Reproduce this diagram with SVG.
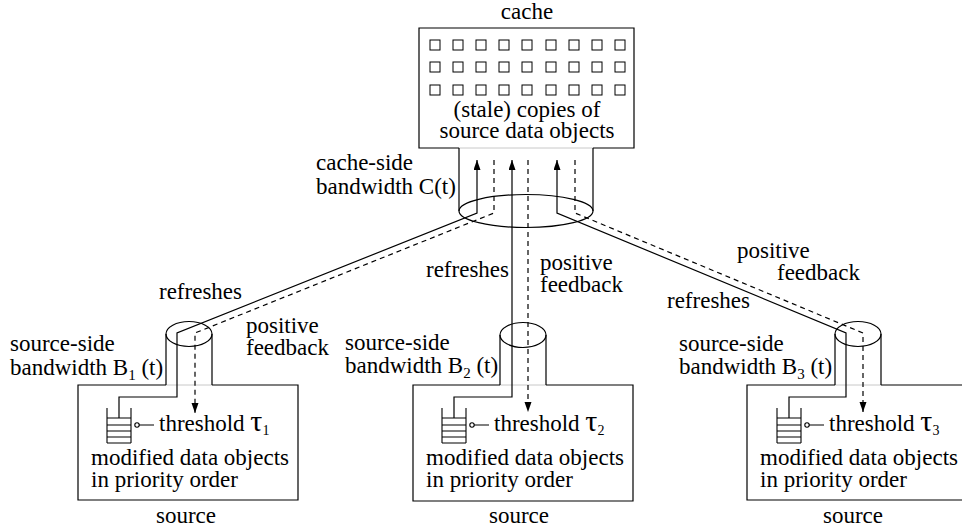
<svg xmlns="http://www.w3.org/2000/svg" width="962" height="531" viewBox="0 0 962 531">
<style>
.t{font-family:"Liberation Serif","Times New Roman",serif;font-size:23px;fill:#000}
.m{text-anchor:middle}
.ln{fill:none;stroke:#000;stroke-width:1.2}
.dash{stroke-dasharray:5 4}
.gap{fill:none;stroke:#c8c8c8;stroke-width:1}
.sq{fill:none;stroke:#000;stroke-width:1}
.q{fill:none;stroke:#000;stroke-width:1.1}
</style>
<defs>
<marker id="ah" markerUnits="userSpaceOnUse" markerWidth="10" markerHeight="8" refX="10" refY="3.5" orient="auto">
<path d="M0,0 L10,3.5 L0,7 z" fill="#000" stroke="none"/>
</marker>
</defs>
<rect width="962" height="531" fill="#fff"/>

<g id="cache">
<text class="t m" x="527" y="19">cache</text>
<path class="ln" d="M459,148 H419 V28 H634 V148 H593"/>
<path class="gap" d="M459,148 H593"/>
<g class="sq">
<rect x="430" y="40" width="10" height="10"/><rect x="453" y="40" width="10" height="10"/><rect x="476" y="40" width="10" height="10"/><rect x="499" y="40" width="10" height="10"/><rect x="522" y="40" width="10" height="10"/><rect x="546" y="40" width="10" height="10"/><rect x="569" y="40" width="10" height="10"/><rect x="592" y="40" width="10" height="10"/><rect x="615" y="40" width="10" height="10"/>
<rect x="430" y="62" width="10" height="10"/><rect x="453" y="62" width="10" height="10"/><rect x="476" y="62" width="10" height="10"/><rect x="499" y="62" width="10" height="10"/><rect x="522" y="62" width="10" height="10"/><rect x="546" y="62" width="10" height="10"/><rect x="569" y="62" width="10" height="10"/><rect x="592" y="62" width="10" height="10"/><rect x="615" y="62" width="10" height="10"/>
<rect x="430" y="85" width="10" height="10"/><rect x="453" y="85" width="10" height="10"/><rect x="476" y="85" width="10" height="10"/><rect x="499" y="85" width="10" height="10"/><rect x="522" y="85" width="10" height="10"/><rect x="546" y="85" width="10" height="10"/><rect x="569" y="85" width="10" height="10"/><rect x="592" y="85" width="10" height="10"/><rect x="615" y="85" width="10" height="10"/>
</g>
<text class="t m" x="527" y="117">(stale) copies of</text>
<text class="t m" x="527" y="138">source data objects</text>
<path class="ln" d="M459,148 V211 M593,148 V211"/>
<ellipse class="ln" cx="526" cy="211" rx="67" ry="16.5"/>
<text class="t" x="316" y="170">cache-side</text>
<text class="t" x="316" y="194">bandwidth C(t)</text>
</g>

<g id="source1">
<path class="ln" d="M166,385 H78 V500 H298 V385 H212"/>
<path class="gap" d="M166,385 H212"/>
<path class="ln" d="M166,385 V334 M212,385 V334"/>
<ellipse class="ln" cx="189" cy="334" rx="23" ry="12.5"/>
<path class="q" d="M107,408 V443 M131,408 V443 M107,418 H131 M107,425 H131 M107,431 H131 M107,437 H131 M107,443 H131 M139,425 H154"/>
<circle class="q" cx="137" cy="425" r="2.2" fill="#fff"/>
<text class="t" x="159" y="431">threshold <tspan font-size="30">τ</tspan><tspan font-size="14" dy="4">1</tspan></text>
<text class="t" x="91" y="465">modified data objects</text>
<text class="t" x="91" y="487">in priority order</text>
<text class="t m" x="186" y="523">source</text>
<text class="t" x="10" y="351">source-side</text>
<text class="t" x="10" y="375">bandwidth B<tspan font-size="15" dy="5">1</tspan><tspan dy="-5"> (t)</tspan></text>
<text class="t" x="159" y="299">refreshes</text>
<text class="t" x="246" y="333">positive</text>
<text class="t" x="246" y="355">feedback</text>
</g>

<g id="source2">
<path class="ln" d="M500,385 H413 V501 H633 V385 H546"/>
<path class="gap" d="M500,385 H546"/>
<path class="ln" d="M500,385 V335 M546,385 V335"/>
<ellipse class="ln" cx="523" cy="335" rx="23" ry="12.5"/>
<path class="q" d="M442,408 V443 M466,408 V443 M442,418 H466 M442,425 H466 M442,431 H466 M442,437 H466 M442,443 H466 M474,425 H489"/>
<circle class="q" cx="472" cy="425" r="2.2" fill="#fff"/>
<text class="t" x="494" y="431">threshold <tspan font-size="30">τ</tspan><tspan font-size="14" dy="4">2</tspan></text>
<text class="t" x="426" y="465">modified data objects</text>
<text class="t" x="426" y="487">in priority order</text>
<text class="t m" x="519" y="523">source</text>
<text class="t" x="345" y="350">source-side</text>
<text class="t" x="345" y="373">bandwidth B<tspan font-size="15" dy="5">2</tspan><tspan dy="-5"> (t)</tspan></text>
<text class="t" x="426" y="277">refreshes</text>
<text class="t" x="540" y="270">positive</text>
<text class="t" x="540" y="292">feedback</text>
</g>

<g id="source3">
<path class="ln" d="M835,385 H747 V500 H967 V385 H881"/>
<path class="gap" d="M835,385 H881"/>
<path class="ln" d="M835,385 V334 M881,385 V334"/>
<ellipse class="ln" cx="858" cy="334" rx="23" ry="12.5"/>
<path class="q" d="M777,408 V443 M801,408 V443 M777,418 H801 M777,425 H801 M777,431 H801 M777,437 H801 M777,443 H801 M809,425 H824"/>
<circle class="q" cx="807" cy="425" r="2.2" fill="#fff"/>
<text class="t" x="829" y="431">threshold <tspan font-size="30">τ</tspan><tspan font-size="14" dy="4">3</tspan></text>
<text class="t" x="760" y="465">modified data objects</text>
<text class="t" x="760" y="487">in priority order</text>
<text class="t m" x="853" y="523">source</text>
<text class="t" x="679" y="351">source-side</text>
<text class="t" x="679" y="374">bandwidth B<tspan font-size="15" dy="5">3</tspan><tspan dy="-5"> (t)</tspan></text>
<text class="t" x="667" y="308">refreshes</text>
<text class="t" x="737" y="258">positive</text>
<text class="t" x="777" y="280">feedback</text>
</g>

<g id="connectors">
<path class="ln" d="M119,418 V397 H177 V333 L477,213 V160" marker-end="url(#ah)"/>
<path class="ln dash" d="M494,160 V213 L195,333 V413" marker-end="url(#ah)"/>
<path class="ln" d="M454,418 V397 H512 V160" marker-end="url(#ah)"/>
<path class="ln dash" d="M528,160 V412" marker-end="url(#ah)"/>
<path class="ln" d="M789,418 V397 H846 V333 L557,213 V160" marker-end="url(#ah)"/>
<path class="ln dash" d="M575,160 V213 L863,333 V412" marker-end="url(#ah)"/>
</g>
</svg>
